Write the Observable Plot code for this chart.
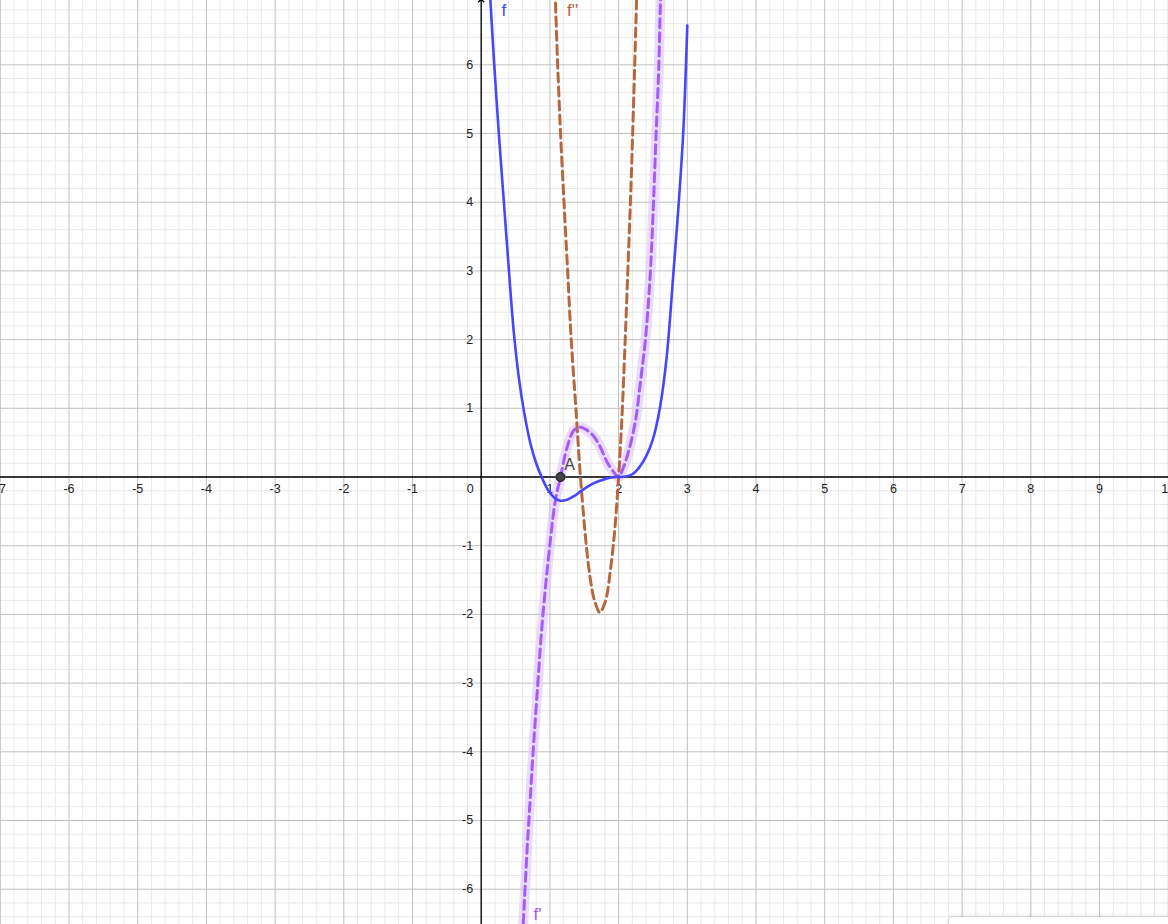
<!DOCTYPE html>
<html>
<head>
<meta charset="utf-8">
<script src="https://cdn.jsdelivr.net/npm/d3@7"></script>
<script src="https://cdn.jsdelivr.net/npm/@observablehq/plot@0.6"></script>
<style>
  html, body { margin: 0; padding: 0; background: #fff; overflow: hidden; }
  #chart { position: relative; width: 1168px; height: 924px; }
  #panel { position: absolute; left: 949px; top: 917px; width: 240px; height: 30px;
           background: #fff; border-radius: 5px; box-shadow: 0 0 4px rgba(0,0,0,0.22); }
</style>
</head>
<body>
<div id="chart"></div>
<script>
// ---- data ----
const xTicks = [-7, -6, -5, -4, -3, -2, -1, 0, 1, 2, 3, 4, 5, 6, 7, 8, 9, 10];
const yTicks = [-6, -5, -4, -3, -2, -1, 0, 1, 2, 3, 4, 5, 6];

// f (blue, solid)
const fPoints = [
  [0.12, 7.2], [0.13, 7.0], [0.19, 6.0], [0.26, 4.95], [0.33, 4.0], [0.40, 3.05],
  [0.475, 2.1], [0.547, 1.45], [0.62, 0.97], [0.718, 0.48], [0.80, 0.20], [0.888, -0.02],
  [0.95, -0.15], [1.0, -0.23], [1.08, -0.315], [1.154, -0.345], [1.25, -0.33], [1.35, -0.28],
  [1.445, -0.21], [1.55, -0.14], [1.64, -0.09], [1.74, -0.05], [1.83, -0.02], [1.92, -0.004],
  [2.0, 0.0], [2.1, 0.006], [2.2, 0.04], [2.3, 0.14], [2.4, 0.3], [2.5, 0.55], [2.6, 1.0],
  [2.7, 1.75], [2.8, 3.0], [2.876, 4.0], [2.94, 5.0], [2.97, 5.7], [3.0, 6.57]
];

// f' (purple, dashed, highlighted)
const f1Points = [
  [0.60, -6.7], [0.611, -6.51], [0.67, -5.39], [0.718, -4.61], [0.766, -3.84], [0.824, -3.01],
  [0.87, -2.35], [0.936, -1.60], [1.009, -0.90], [1.08, -0.34], [1.154, 0.0], [1.25, 0.43],
  [1.35, 0.68], [1.445, 0.725], [1.54, 0.68], [1.64, 0.59], [1.737, 0.43], [1.83, 0.22],
  [1.93, 0.07], [2.0, 0.0], [2.07, 0.14], [2.15, 0.39], [2.246, 0.82], [2.32, 1.40],
  [2.39, 2.0], [2.455, 2.86], [2.5, 3.8], [2.54, 4.85], [2.585, 5.97], [2.61, 6.94], [2.62, 7.1]
];

// f'' (brown, dashed)
const f2Points = [
  [1.075, 7.1], [1.08, 6.94], [1.113, 6.0], [1.155, 5.0], [1.205, 4.0], [1.258, 3.0],
  [1.31, 2.0], [1.378, 1.0], [1.445, 0.0], [1.53, -1.0], [1.59, -1.5], [1.65, -1.8],
  [1.726, -1.97], [1.81, -1.80], [1.88, -1.36], [1.93, -0.92], [1.955, -0.63], [2.0, 0.0],
  [2.05, 0.9], [2.09, 1.85], [2.125, 2.75], [2.17, 3.95], [2.20, 4.85], [2.23, 5.85],
  [2.26, 6.9], [2.265, 7.1]
];

const pointA = [{x: 1.154, y: 0, name: "A"}];
const curveLabels = [
  {name: "f", x: 0.33, y: 6.79, color: "#4646ff"},
  {name: "f''", x: 1.33, y: 6.79, color: "#b0653c"},
  {name: "f'", x: 0.82, y: -6.37, color: "#a45cf2"}
];

// ---- chart ----
const xDomain = [-6.997, 10.004];
const yDomain = [-6.514, 6.936];
const minorX = d3.range(-35, 51).map(i => i / 5).filter(v => !Number.isInteger(v));
const minorY = d3.range(-33, 35).map(i => i / 5).filter(v => !Number.isInteger(v));
const fmt = v => String(v);

const chart = Plot.plot({
  width: 1168,
  height: 924,
  margin: 0,
  x: {domain: xDomain, axis: null},
  y: {domain: yDomain, axis: null},
  style: {fontFamily: "'Liberation Sans', Arial, sans-serif", background: "#fff"},
  marks: [
    Plot.ruleX(minorX, {stroke: "#e9e9e9", strokeWidth: 1}),
    Plot.ruleY(minorY, {stroke: "#e9e9e9", strokeWidth: 1}),
    Plot.ruleX(xTicks, {stroke: "#c0c0c0", strokeWidth: 1}),
    Plot.ruleY(yTicks, {stroke: "#c0c0c0", strokeWidth: 1}),
    Plot.ruleY([0], {stroke: "#000", strokeWidth: 1.5}),
    Plot.link([0], {x1: 0, x2: 0, y1: yDomain[0], y2: yDomain[1], stroke: "#000", strokeWidth: 1.3, markerEnd: "arrow"}),
    // tick labels
    Plot.text(xTicks.filter(v => v !== 0), {x: d => d, y: 0, text: fmt, dy: 12, fontSize: 12.5, fill: "#222"}),
    Plot.text([0], {x: 0, y: 0, text: fmt, dx: -11, dy: 12, fontSize: 12.5, fill: "#222"}),
    Plot.text(yTicks.filter(v => v !== 0), {x: 0, y: d => d, text: fmt, dx: -8, textAnchor: "end", fontSize: 12.5, fill: "#222"}),
    // f' highlight halo
    Plot.line(f1Points, {x: d => d[0], y: d => d[1], curve: "catmull-rom", stroke: "#dcc3ff", strokeOpacity: 0.6, strokeWidth: 10, clip: true}),
    // f''
    Plot.line(f2Points, {x: d => d[0], y: d => d[1], curve: "catmull-rom", stroke: "#b5683f", strokeWidth: 3, strokeDasharray: "9,5", clip: true}),
    // f'
    Plot.line(f1Points, {x: d => d[0], y: d => d[1], curve: "catmull-rom", stroke: "#a55cf5", strokeWidth: 3, strokeDasharray: "9,5", clip: true}),
    // f
    Plot.line(fPoints, {x: d => d[0], y: d => d[1], curve: "catmull-rom", stroke: "#4646ff", strokeWidth: 2.6, clip: true}),
    // point A
    Plot.dot(pointA, {x: "x", y: "y", r: 4.5, fill: "#444", stroke: "#111", strokeWidth: 1}),
    Plot.text(pointA, {x: "x", y: "y", text: "name", dx: 9, dy: -12, fontSize: 16, fill: "#444"}),
    // curve labels
    Plot.text(curveLabels, {x: "x", y: "y", text: "name", fill: "color", fontSize: 17, textAnchor: "middle"})
  ]
});
document.getElementById("chart").appendChild(chart);
const panel = document.createElement("div");
panel.id = "panel";
document.getElementById("chart").appendChild(panel);
</script>
</body>
</html>
